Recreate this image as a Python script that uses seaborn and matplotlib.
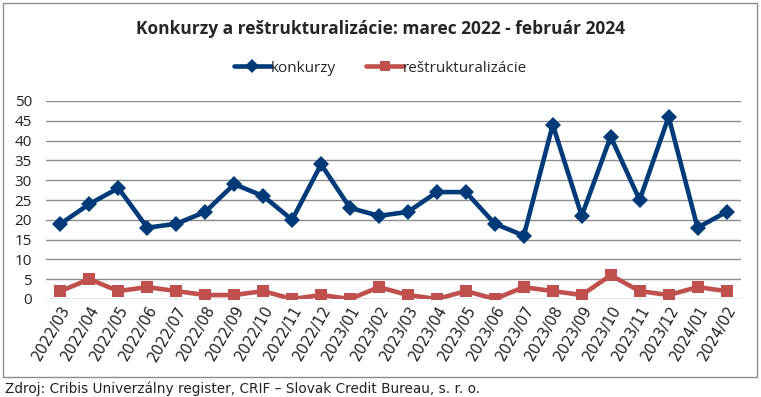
import pandas as pd
import matplotlib
matplotlib.use('Agg')
import matplotlib.pyplot as plt
import seaborn as sns
from matplotlib.patches import Rectangle

# data
months = ['2022/03', '2022/04', '2022/05', '2022/06', '2022/07', '2022/08', '2022/09',
          '2022/10', '2022/11', '2022/12', '2023/01', '2023/02', '2023/03', '2023/04',
          '2023/05', '2023/06', '2023/07', '2023/08', '2023/09', '2023/10', '2023/11',
          '2023/12', '2024/01', '2024/02']
konkurzy = [19, 24, 28, 18, 19, 22, 29, 26, 20, 34, 23, 21, 22, 27, 27, 19, 16, 44, 21, 41, 25, 46, 18, 22]
restrukturalizacie = [2, 5, 2, 3, 2, 1, 1, 2, 0, 1, 0, 3, 1, 0, 2, 0, 3, 2, 1, 6, 2, 1, 3, 2]

df = pd.DataFrame({'Mesiac': months, 'konkurzy': konkurzy,
                   'reštrukturalizácie': restrukturalizacie})
df_long = df.melt(id_vars=['Mesiac'], var_name='Séria', value_name='Počet')

sns.set_style('white')
plt.rcParams['font.family'] = ['DejaVu Sans']

fig = plt.figure(figsize=(7.61, 3.97), dpi=100)
ax = fig.add_axes([46 / 761, 1 - 299 / 397, 695 / 761, 198 / 397])

palette = {'konkurzy': '#003A78', 'reštrukturalizácie': '#C0504D'}
markers = {'konkurzy': 'D', 'reštrukturalizácie': 's'}
sns.lineplot(data=df_long, x='Mesiac', y='Počet', hue='Séria', style='Séria',
             palette=palette, markers=markers, dashes=False, linewidth=3.3,
             markersize=8.5, markeredgewidth=0, sort=False, ax=ax)

ax.set_ylim(0, 50)
ax.set_xlim(-0.5, len(months) - 0.5)
ax.set_yticks(range(0, 51, 5))
ax.yaxis.grid(True, color='#8c8c8c', linewidth=1)
ax.set_axisbelow(True)
for s in ax.spines.values():
    s.set_visible(False)
ax.set_xlabel('')
ax.set_ylabel('')
ax.tick_params(axis='y', labelsize=11, length=0, pad=10, labelcolor='#222222')
ax.tick_params(axis='x', labelsize=10.5, length=0, pad=3, labelcolor='#222222')
plt.setp(ax.get_xticklabels(), rotation=60, ha='right', rotation_mode='anchor')
for lbl in ax.get_yticklabels():
    lbl.set_fontfamily('Open Sans')

handles, labels = ax.get_legend_handles_labels()
leg = fig.legend(handles, labels, loc='center', bbox_to_anchor=(0.5, 1 - 68 / 397),
                 ncol=2, frameon=False, handlelength=2.4, columnspacing=2.0,
                 handletextpad=0.0, prop={'family': 'Open Sans', 'size': 11})
for lh in leg.get_lines():
    lh.set_markersize(7.5)
if ax.get_legend():
    ax.get_legend().remove()

fig.text(0.5, 1 - 29 / 397, 'Konkurzy a reštrukturalizácie: marec 2022 - február 2024',
         ha='center', va='center', fontsize=12.5, fontweight='bold', family='Open Sans')

fig.patches.append(Rectangle((3 / 761, 1 - 377 / 397), 754 / 761, 374 / 397,
                             transform=fig.transFigure, fill=False,
                             edgecolor='#8c8c8c', linewidth=1))
fig.text(5 / 761, 1 - 389 / 397,
         'Zdroj: Cribis Univerzálny register, CRIF \u2013 Slovak Credit Bureau, s. r. o.',
         ha='left', va='center', fontsize=9.8, color='#222222')

fig.savefig('out.png', dpi=100)
